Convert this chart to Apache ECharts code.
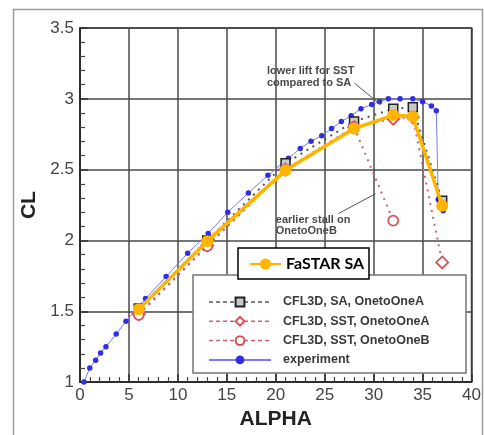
<!DOCTYPE html>
<html><head><meta charset="utf-8">
<script src="https://cdn.jsdelivr.net/npm/echarts@6/dist/echarts.min.js"></script>
<style>html,body{margin:0;padding:0;background:#fff}#c{width:484px;height:435px}</style>
</head><body><div id="c"></div>
<script>
// ---- data ----
const xTicks = [0,5,10,15,20,25,30,35,40];
const yTicks = [1,1.5,2,2.5,3,3.5];

const fastarAlpha = [6,13,21,28,32,34,37];
const fastarCL    = [1.515,1.995,2.495,2.79,2.885,2.875,2.245];

const saAlpha = [6,13,21,28,32,34,37];
const saCL    = [1.52,2.00,2.545,2.84,2.93,2.94,2.28];

const sstAAlpha = [6,13,21,28,32,34,37];
const sstACL    = [1.48,1.965,2.50,2.80,2.86,2.87,1.845];

const sstBAlpha = [6,13,21,28,32];
const sstBCL    = [1.475,1.96,2.50,2.80,2.14];

const expAlpha = [0.4,1.0,1.6,2.1,2.65,3.7,4.7,6.7,8.8,11.0,13.1,15.1,17.2,19.2,21.3,22.5,23.6,24.7,25.7,26.7,27.7,28.7,29.8,30.6,31.5,32.7,34.0,35.0,35.9,36.4,36.6,37.1];
const expCL    = [1.0,1.10,1.155,1.205,1.25,1.34,1.43,1.59,1.745,1.91,2.05,2.20,2.335,2.46,2.58,2.65,2.70,2.74,2.79,2.84,2.88,2.93,2.96,2.98,3.0,3.0,3.0,2.98,2.95,2.915,2.29,2.21];

const names = ['FaSTAR SA','CFL3D, SA, OnetoOneA','CFL3D, SST, OnetoOneA','CFL3D, SST, OnetoOneB','experiment'];
const notes = [
  {text:'lower lift for SST\ncompared to SA', at:[19.1,3.155], from:[28.05,3.11], to:[30.7,2.96]},
  {text:'earlier stall on\nOnetoOneB', at:[20.0,2.105], from:[26.4,2.19], to:[30.2,2.33]}
];

const pair = (a,b)=>a.map((v,i)=>[v,b[i]]);

const chart = echarts.init(document.getElementById('c'));
const axisFont = {fontFamily:'Liberation Sans', fontSize:17, color:'#444'};
const option = {
  animation:false,
  grid:{left:80,right:9,top:28,bottom:46,show:true,borderColor:'#222',borderWidth:1.5},
  xAxis:{type:'value',min:0,max:40,interval:5,
    name:'ALPHA',nameLocation:'middle',nameGap:26,
    nameTextStyle:{fontFamily:'Liberation Sans',fontWeight:'bold',fontSize:21,color:'#222'},
    axisLine:{lineStyle:{color:'#222',width:1.5}},
    axisTick:{inside:true,length:8,lineStyle:{color:'#333',width:1.5}},
    minorTick:{show:true,splitNumber:5,length:5,lineStyle:{color:'#444',width:1.2}},
    axisLabel:Object.assign({margin:5,formatter:v=>String(v)},axisFont),
    splitLine:{show:true,lineStyle:{color:'#4a4a4a',width:1.5}}},
  yAxis:{type:'value',min:1,max:3.5,interval:0.5,
    name:'CL',nameLocation:'middle',nameGap:40,
    nameTextStyle:{fontFamily:'Liberation Sans',fontWeight:'bold',fontSize:21,color:'#222'},
    axisLine:{lineStyle:{color:'#222',width:1.5}},
    axisTick:{inside:true,length:8,lineStyle:{color:'#333',width:1.5}},
    minorTick:{show:true,splitNumber:5,length:5,lineStyle:{color:'#444',width:1.2}},
    axisLabel:Object.assign({margin:6,formatter:v=>String(v)},axisFont),
    splitLine:{show:true,lineStyle:{color:'#4a4a4a',width:1.5}}},
  legend:[
    {data:[{name:names[0]}],left:249,top:256,padding:0,itemWidth:31,itemHeight:14,z:60,
     textStyle:{fontFamily:'Lato',fontWeight:'bold',fontSize:16,color:'#000'}},
    {data:[
      {name:names[1],lineStyle:{type:[4,3],width:1.5}},
      {name:names[2],lineStyle:{type:[4,3],width:1.5}},
      {name:names[3],lineStyle:{type:[4,3],width:1.5}},
      {name:names[4]}],
     orient:'vertical',left:208,top:295.5,padding:0,itemWidth:62,itemHeight:11,itemGap:6.3,z:60,
     textStyle:{fontFamily:'Liberation Sans',fontWeight:'bold',fontSize:12.5,color:'#3a3a3a',padding:[0,0,0,7]}}
  ],
  series:[
    {name:names[4],type:'line',data:pair(expAlpha,expCL),symbol:'circle',symbolSize:5.5,
     lineStyle:{color:'#7a7aff',width:1},itemStyle:{color:'#2e2ee6'},z:2},
    {name:names[1],type:'line',data:pair(saAlpha,saCL),symbol:'rect',symbolSize:9,
     lineStyle:{color:'#555',width:2,type:[2,5]},itemStyle:{color:'#c8c8c8',borderColor:'#222',borderWidth:1.5},z:3},
    {name:names[2],type:'line',data:pair(sstAAlpha,sstACL),symbol:'diamond',symbolSize:12,
     lineStyle:{color:'#d06070',width:2,type:[2,5]},itemStyle:{color:'#fff',borderColor:'#d9505a',borderWidth:1.8},z:3},
    {name:names[3],type:'line',data:pair(sstBAlpha,sstBCL),symbol:'circle',symbolSize:10,
     lineStyle:{color:'#d06070',width:2,type:[2,5]},itemStyle:{color:'#fff',borderColor:'#d9505a',borderWidth:1.8},z:3},
    {name:names[0],type:'line',data:pair(fastarAlpha,fastarCL),symbol:'circle',symbolSize:12,
     lineStyle:{color:'#ffb400',width:3.5},itemStyle:{color:'#ffb400'},z:5}
  ]
};
chart.setOption(option);

const P = p => chart.convertToPixel({gridIndex:0}, p);
const g = [
  {type:'rect',z:-1,shape:{x:13.5,y:9.5,width:469,height:440},style:{fill:null,stroke:'#9a9a9a',lineWidth:1.5}},
  {type:'rect',z:50,shape:{x:193,y:275,width:273,height:98},style:{fill:'#fff',stroke:'#777',lineWidth:1.5}},
  {type:'rect',z:50,shape:{x:238,y:248,width:131,height:31},style:{fill:'#fff',stroke:'#000',lineWidth:1.5}}
];
notes.forEach(n=>{
  const a=P(n.at), f=P(n.from), t=P(n.to);
  g.push({type:'text',z:40,x:a[0],y:a[1],style:{text:n.text,fontFamily:'Liberation Sans',fontWeight:'bold',fontSize:11,lineHeight:11.5,fill:'#4a4a4a',textVerticalAlign:'middle'}});
  g.push({type:'line',z:40,shape:{x1:f[0],y1:f[1],x2:t[0],y2:t[1]},style:{stroke:'#555',lineWidth:1}});
});
chart.setOption({graphic:g});
</script></body></html>
